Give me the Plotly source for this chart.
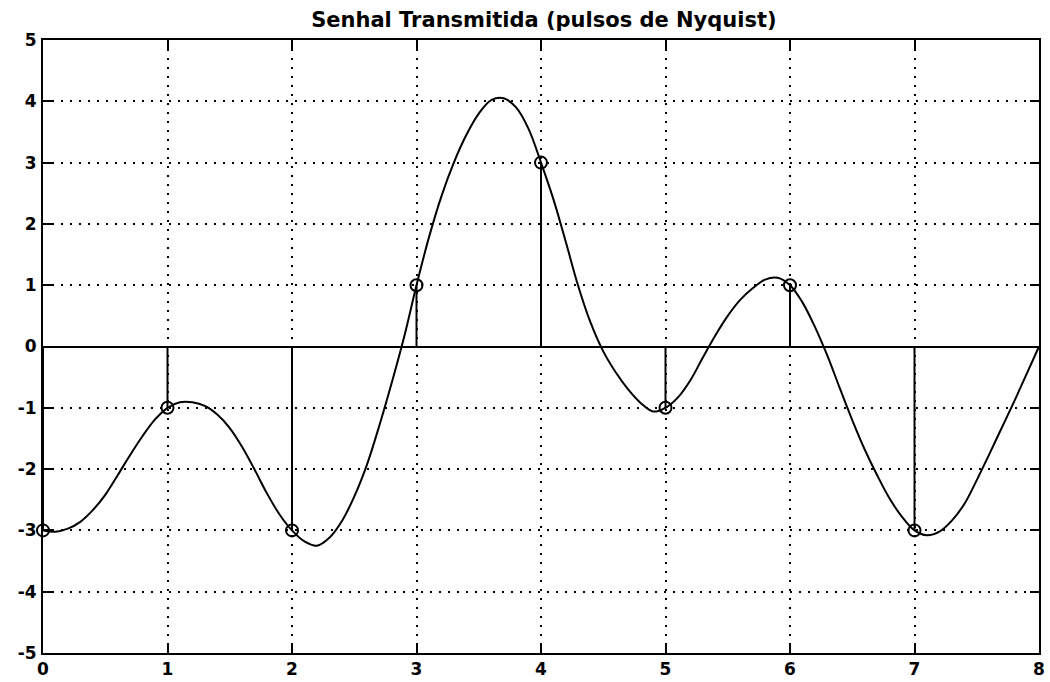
import plotly.graph_objects as go

# Symbol instants and transmitted symbol values
sym_t = [0, 1, 2, 3, 4, 5, 6, 7]
sym_v = [-3, -1, -3, 1, 3, -1, 1, -3]

# Continuous transmitted waveform (every 0.1)
curve_t = [0.0, 0.1, 0.2, 0.3, 0.4, 0.5, 0.6, 0.7, 0.8, 0.9,
           1.0, 1.1, 1.2, 1.3, 1.4, 1.5, 1.6, 1.7, 1.8, 1.9,
           2.0, 2.1, 2.2, 2.3, 2.4, 2.5, 2.6, 2.7, 2.8, 2.9,
           3.0, 3.1, 3.2, 3.3, 3.4, 3.5, 3.6, 3.7, 3.8, 3.9,
           4.0, 4.1, 4.2, 4.3, 4.4, 4.5, 4.6, 4.7, 4.8, 4.9,
           5.0, 5.1, 5.2, 5.3, 5.4, 5.5, 5.6, 5.7, 5.8, 5.9,
           6.0, 6.1, 6.2, 6.3, 6.4, 6.5, 6.6, 6.7, 6.8, 6.9,
           7.0, 7.1, 7.2, 7.3, 7.4, 7.5, 7.6, 7.7, 7.8, 7.9, 8.0]
curve_v = [-3.00, -3.02, -2.97, -2.86, -2.67, -2.42, -2.10, -1.77, -1.46, -1.19,
           -1.00, -0.91, -0.91, -0.97, -1.11, -1.33, -1.64, -2.01, -2.40, -2.74,
           -3.00, -3.18, -3.25, -3.12, -2.85, -2.45, -1.94, -1.30, -0.60, 0.15,
           1.00, 1.78, 2.45, 3.00, 3.45, 3.80, 4.02, 4.05, 3.90, 3.55,
           3.00, 2.40, 1.70, 0.98, 0.38, -0.08, -0.42, -0.70, -0.92, -1.06,
           -1.00, -0.83, -0.55, -0.18, 0.18, 0.50, 0.76, 0.95, 1.09, 1.12,
           1.00, 0.72, 0.32, -0.15, -0.68, -1.20, -1.68, -2.10, -2.48, -2.78,
           -3.00, -3.08, -3.02, -2.84, -2.57, -2.18, -1.76, -1.33, -0.90, -0.45, 0.00]

x_ticks = [0, 1, 2, 3, 4, 5, 6, 7, 8]
y_ticks = [-5, -4, -3, -2, -1, 0, 1, 2, 3, 4, 5]
title = "Senhal Transmitida (pulsos de Nyquist)"

stem_x, stem_y = [], []
for t, v in zip(sym_t, sym_v):
    stem_x += [t, t, None]
    stem_y += [0, v, None]

fig = go.Figure()
fig.add_trace(go.Scatter(x=curve_t, y=curve_v, mode="lines",
                         line=dict(color="black", width=2, shape="spline", smoothing=1.0),
                         showlegend=False, hoverinfo="skip"))
fig.add_trace(go.Scatter(x=stem_x, y=stem_y, mode="lines",
                         line=dict(color="black", width=2),
                         showlegend=False, hoverinfo="skip"))
fig.add_trace(go.Scatter(x=sym_t, y=sym_v, mode="markers",
                         marker=dict(symbol="circle-open", size=12, color="black",
                                     line=dict(width=2, color="black")),
                         showlegend=False, cliponaxis=False))

tick_font = dict(family="DejaVu Sans", size=17, color="black", weight="bold")
axis_common = dict(
    showline=True, linecolor="black", linewidth=2, mirror="allticks",
    ticks="inside", ticklen=9, tickwidth=2, tickcolor="black",
    showgrid=True, gridcolor="black", gridwidth=1.5, griddash="2px,7px",
    tickfont=tick_font, automargin=False,
)

fig.update_xaxes(range=[0, 8], tickvals=x_ticks, ticktext=[str(v) for v in x_ticks],
                 zeroline=False, ticklabelstandoff=0, **axis_common)
fig.update_yaxes(range=[-5, 5], tickvals=y_ticks, ticktext=[str(v) for v in y_ticks],
                 zeroline=True, zerolinecolor="black", zerolinewidth=2,
                 ticklabelstandoff=1, **axis_common)

fig.update_layout(
    width=1050, height=682,
    margin=dict(l=43, r=11, t=40, b=29),
    paper_bgcolor="white", plot_bgcolor="white",
    title=dict(text=title, x=0.518, xanchor="center", yref="container", y=0.971,
               yanchor="middle",
               font=dict(family="DejaVu Sans", size=21, color="black", weight="bold")),
)

fig.write_html("out.html", config={"displayModeBar": False},
               post_script="document.body.style.margin='0';document.body.style.padding='0';")
